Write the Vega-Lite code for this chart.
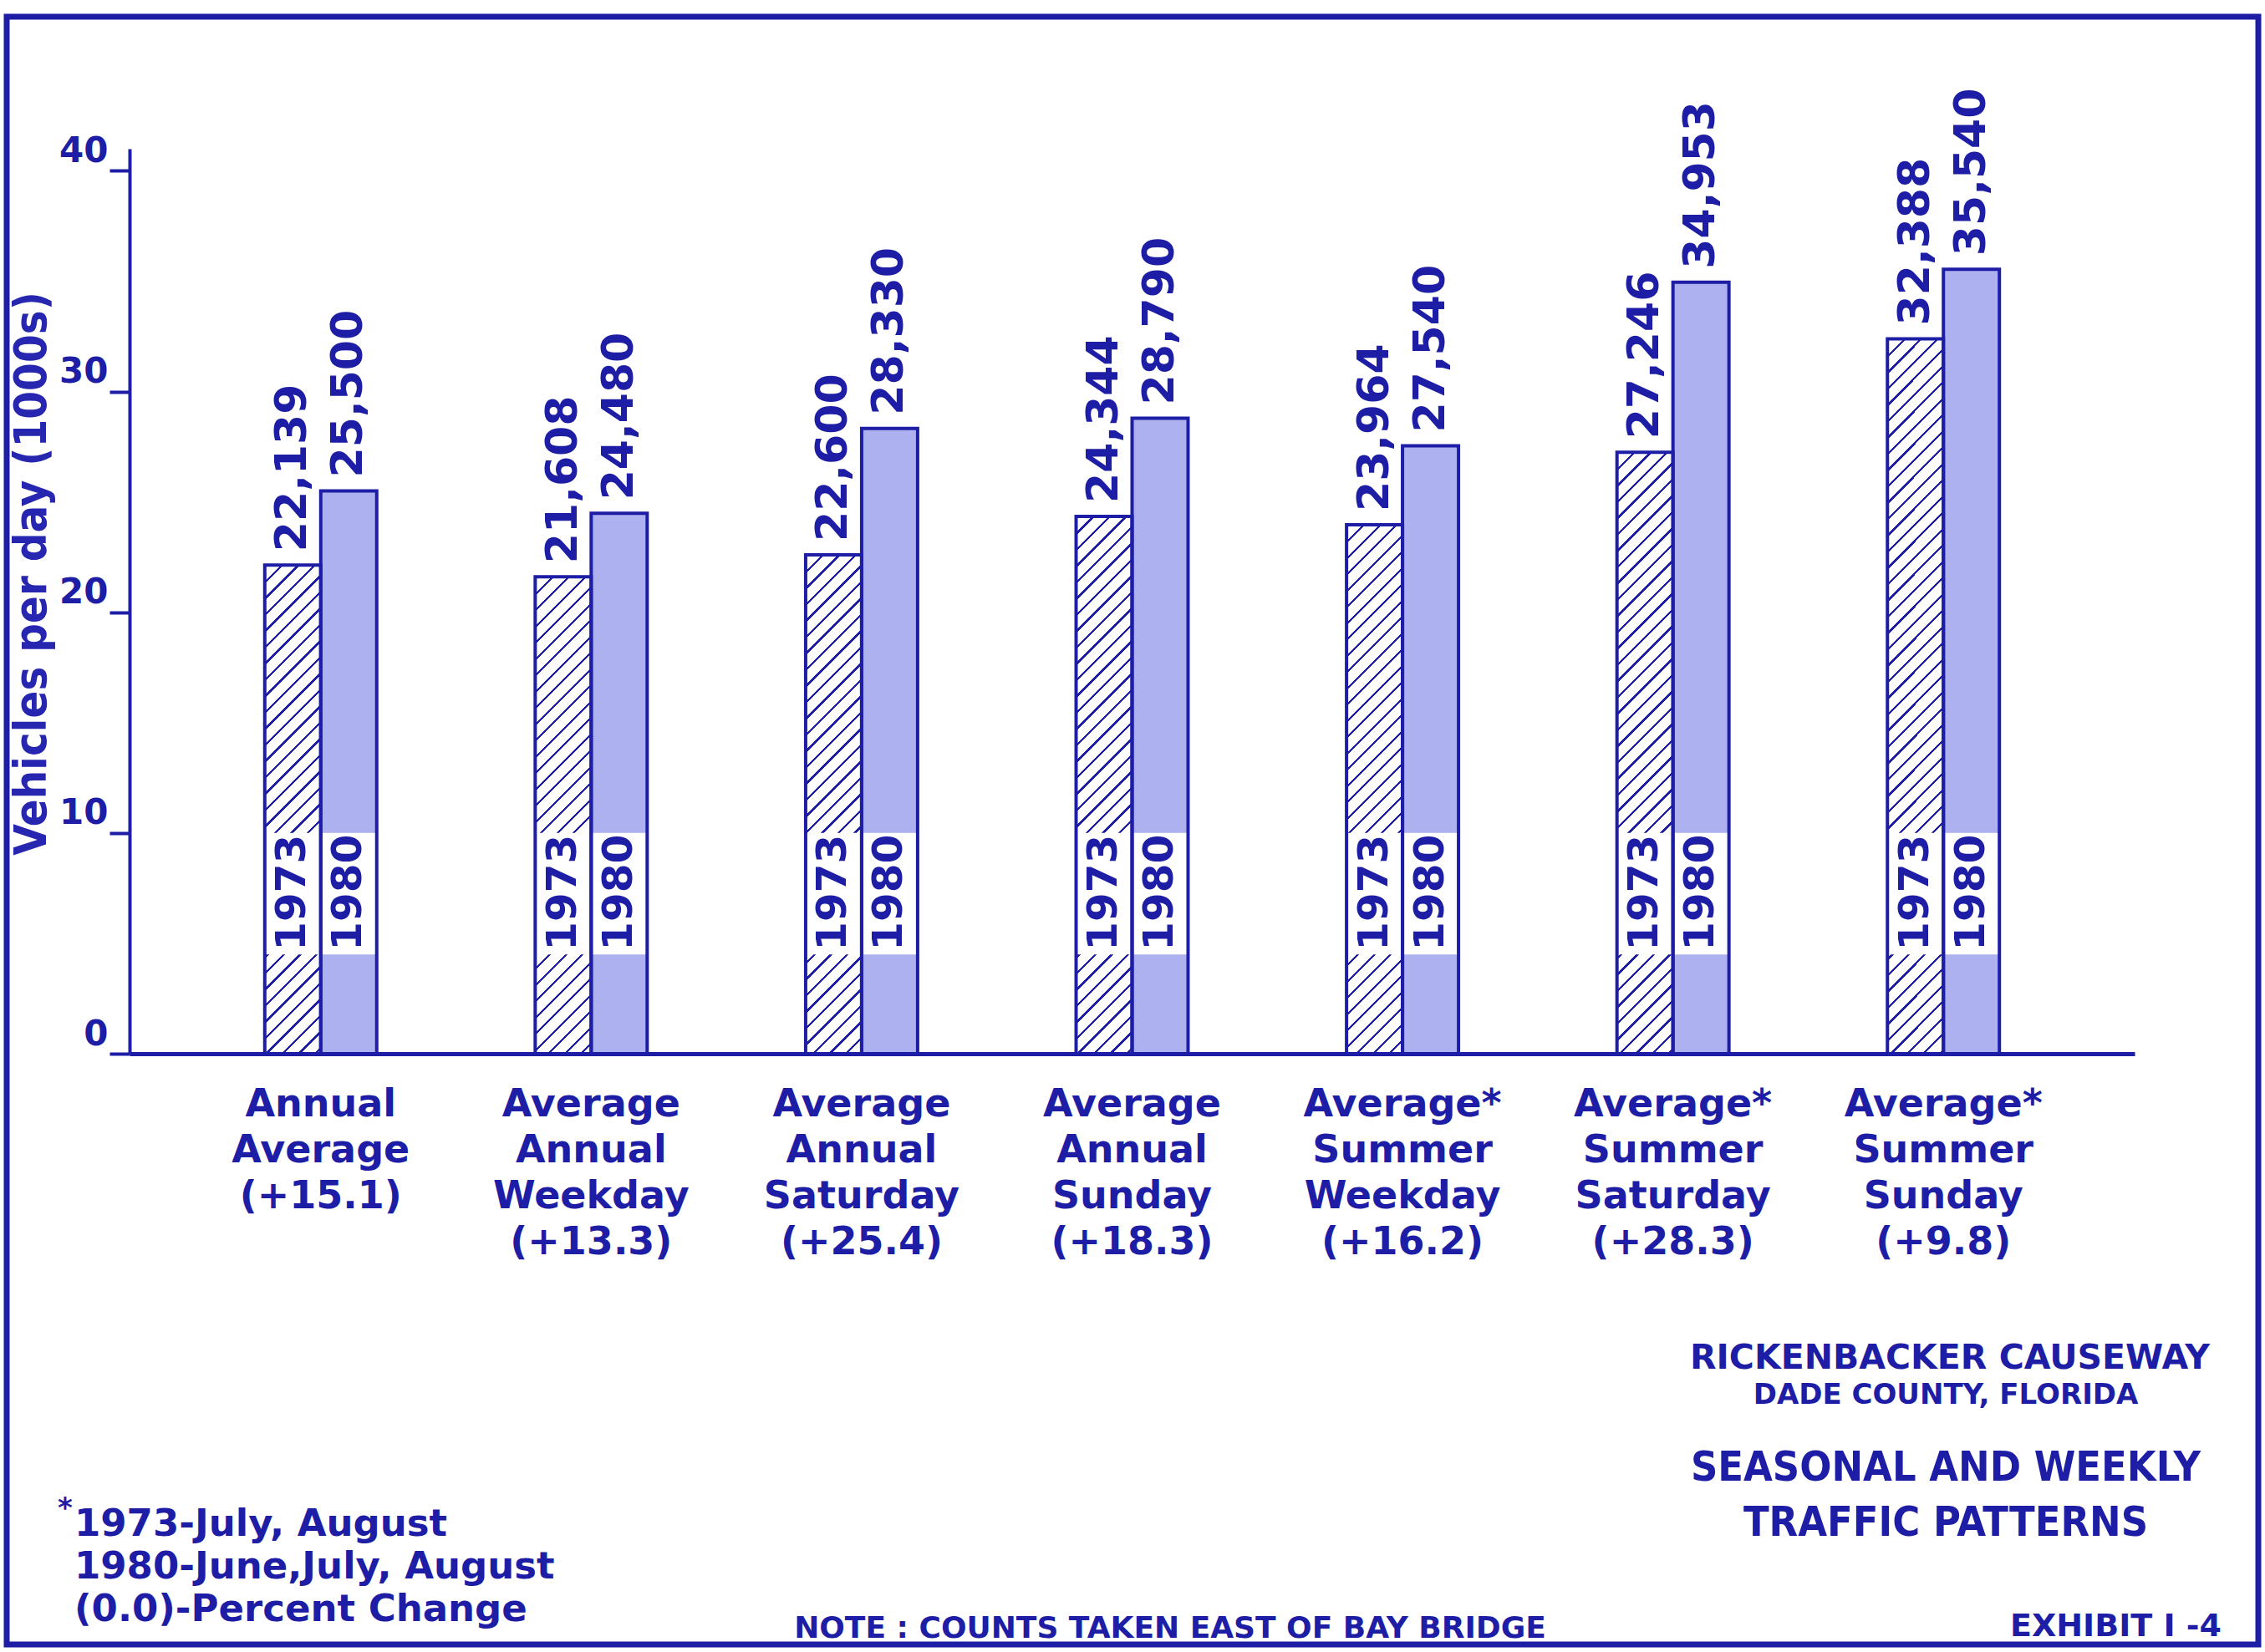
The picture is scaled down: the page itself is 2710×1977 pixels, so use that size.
{
  "$schema": "https://vega.github.io/schema/vega-lite/v6.json",
  "width": 2399,
  "height": 1083,
  "autosize": {"type": "none"},
  "padding": {"left": 155, "top": 178, "right": 156, "bottom": 716},
  "background": "white",
  "params": [
    {"name": "hs", "value": [
      {"offset":0,"color":"#1d1da5"},{"offset":0.0035,"color":"#1d1da5"},{"offset":0.0035,"color":"#fff"},{"offset":0.020833,"color":"#fff"},
      {"offset":0.020833,"color":"#1d1da5"},{"offset":0.024333,"color":"#1d1da5"},{"offset":0.024333,"color":"#fff"},{"offset":0.041667,"color":"#fff"},
      {"offset":0.041667,"color":"#1d1da5"},{"offset":0.045167,"color":"#1d1da5"},{"offset":0.045167,"color":"#fff"},{"offset":0.0625,"color":"#fff"},
      {"offset":0.0625,"color":"#1d1da5"},{"offset":0.066,"color":"#1d1da5"},{"offset":0.066,"color":"#fff"},{"offset":0.083333,"color":"#fff"},
      {"offset":0.083333,"color":"#1d1da5"},{"offset":0.086833,"color":"#1d1da5"},{"offset":0.086833,"color":"#fff"},{"offset":0.104167,"color":"#fff"},
      {"offset":0.104167,"color":"#1d1da5"},{"offset":0.107667,"color":"#1d1da5"},{"offset":0.107667,"color":"#fff"},{"offset":0.125,"color":"#fff"},
      {"offset":0.125,"color":"#1d1da5"},{"offset":0.1285,"color":"#1d1da5"},{"offset":0.1285,"color":"#fff"},{"offset":0.145833,"color":"#fff"},
      {"offset":0.145833,"color":"#1d1da5"},{"offset":0.149333,"color":"#1d1da5"},{"offset":0.149333,"color":"#fff"},{"offset":0.166667,"color":"#fff"},
      {"offset":0.166667,"color":"#1d1da5"},{"offset":0.170167,"color":"#1d1da5"},{"offset":0.170167,"color":"#fff"},{"offset":0.1875,"color":"#fff"},
      {"offset":0.1875,"color":"#1d1da5"},{"offset":0.191,"color":"#1d1da5"},{"offset":0.191,"color":"#fff"},{"offset":0.208333,"color":"#fff"},
      {"offset":0.208333,"color":"#1d1da5"},{"offset":0.211833,"color":"#1d1da5"},{"offset":0.211833,"color":"#fff"},{"offset":0.229167,"color":"#fff"},
      {"offset":0.229167,"color":"#1d1da5"},{"offset":0.232667,"color":"#1d1da5"},{"offset":0.232667,"color":"#fff"},{"offset":0.25,"color":"#fff"},
      {"offset":0.25,"color":"#1d1da5"},{"offset":0.2535,"color":"#1d1da5"},{"offset":0.2535,"color":"#fff"},{"offset":0.270833,"color":"#fff"},
      {"offset":0.270833,"color":"#1d1da5"},{"offset":0.274333,"color":"#1d1da5"},{"offset":0.274333,"color":"#fff"},{"offset":0.291667,"color":"#fff"},
      {"offset":0.291667,"color":"#1d1da5"},{"offset":0.295167,"color":"#1d1da5"},{"offset":0.295167,"color":"#fff"},{"offset":0.3125,"color":"#fff"},
      {"offset":0.3125,"color":"#1d1da5"},{"offset":0.316,"color":"#1d1da5"},{"offset":0.316,"color":"#fff"},{"offset":0.333333,"color":"#fff"},
      {"offset":0.333333,"color":"#1d1da5"},{"offset":0.336833,"color":"#1d1da5"},{"offset":0.336833,"color":"#fff"},{"offset":0.354167,"color":"#fff"},
      {"offset":0.354167,"color":"#1d1da5"},{"offset":0.357667,"color":"#1d1da5"},{"offset":0.357667,"color":"#fff"},{"offset":0.375,"color":"#fff"},
      {"offset":0.375,"color":"#1d1da5"},{"offset":0.3785,"color":"#1d1da5"},{"offset":0.3785,"color":"#fff"},{"offset":0.395833,"color":"#fff"},
      {"offset":0.395833,"color":"#1d1da5"},{"offset":0.399333,"color":"#1d1da5"},{"offset":0.399333,"color":"#fff"},{"offset":0.416667,"color":"#fff"},
      {"offset":0.416667,"color":"#1d1da5"},{"offset":0.420167,"color":"#1d1da5"},{"offset":0.420167,"color":"#fff"},{"offset":0.4375,"color":"#fff"},
      {"offset":0.4375,"color":"#1d1da5"},{"offset":0.441,"color":"#1d1da5"},{"offset":0.441,"color":"#fff"},{"offset":0.458333,"color":"#fff"},
      {"offset":0.458333,"color":"#1d1da5"},{"offset":0.461833,"color":"#1d1da5"},{"offset":0.461833,"color":"#fff"},{"offset":0.479167,"color":"#fff"},
      {"offset":0.479167,"color":"#1d1da5"},{"offset":0.482667,"color":"#1d1da5"},{"offset":0.482667,"color":"#fff"},{"offset":0.5,"color":"#fff"},
      {"offset":0.5,"color":"#1d1da5"},{"offset":0.5035,"color":"#1d1da5"},{"offset":0.5035,"color":"#fff"},{"offset":0.520833,"color":"#fff"},
      {"offset":0.520833,"color":"#1d1da5"},{"offset":0.524333,"color":"#1d1da5"},{"offset":0.524333,"color":"#fff"},{"offset":0.541667,"color":"#fff"},
      {"offset":0.541667,"color":"#1d1da5"},{"offset":0.545167,"color":"#1d1da5"},{"offset":0.545167,"color":"#fff"},{"offset":0.5625,"color":"#fff"},
      {"offset":0.5625,"color":"#1d1da5"},{"offset":0.566,"color":"#1d1da5"},{"offset":0.566,"color":"#fff"},{"offset":0.583333,"color":"#fff"},
      {"offset":0.583333,"color":"#1d1da5"},{"offset":0.586833,"color":"#1d1da5"},{"offset":0.586833,"color":"#fff"},{"offset":0.604167,"color":"#fff"},
      {"offset":0.604167,"color":"#1d1da5"},{"offset":0.607667,"color":"#1d1da5"},{"offset":0.607667,"color":"#fff"},{"offset":0.625,"color":"#fff"},
      {"offset":0.625,"color":"#1d1da5"},{"offset":0.6285,"color":"#1d1da5"},{"offset":0.6285,"color":"#fff"},{"offset":0.645833,"color":"#fff"},
      {"offset":0.645833,"color":"#1d1da5"},{"offset":0.649333,"color":"#1d1da5"},{"offset":0.649333,"color":"#fff"},{"offset":0.666667,"color":"#fff"},
      {"offset":0.666667,"color":"#1d1da5"},{"offset":0.670167,"color":"#1d1da5"},{"offset":0.670167,"color":"#fff"},{"offset":0.6875,"color":"#fff"},
      {"offset":0.6875,"color":"#1d1da5"},{"offset":0.691,"color":"#1d1da5"},{"offset":0.691,"color":"#fff"},{"offset":0.708333,"color":"#fff"},
      {"offset":0.708333,"color":"#1d1da5"},{"offset":0.711833,"color":"#1d1da5"},{"offset":0.711833,"color":"#fff"},{"offset":0.729167,"color":"#fff"},
      {"offset":0.729167,"color":"#1d1da5"},{"offset":0.732667,"color":"#1d1da5"},{"offset":0.732667,"color":"#fff"},{"offset":0.75,"color":"#fff"},
      {"offset":0.75,"color":"#1d1da5"},{"offset":0.7535,"color":"#1d1da5"},{"offset":0.7535,"color":"#fff"},{"offset":0.770833,"color":"#fff"},
      {"offset":0.770833,"color":"#1d1da5"},{"offset":0.774333,"color":"#1d1da5"},{"offset":0.774333,"color":"#fff"},{"offset":0.791667,"color":"#fff"},
      {"offset":0.791667,"color":"#1d1da5"},{"offset":0.795167,"color":"#1d1da5"},{"offset":0.795167,"color":"#fff"},{"offset":0.8125,"color":"#fff"},
      {"offset":0.8125,"color":"#1d1da5"},{"offset":0.816,"color":"#1d1da5"},{"offset":0.816,"color":"#fff"},{"offset":0.833333,"color":"#fff"},
      {"offset":0.833333,"color":"#1d1da5"},{"offset":0.836833,"color":"#1d1da5"},{"offset":0.836833,"color":"#fff"},{"offset":0.854167,"color":"#fff"},
      {"offset":0.854167,"color":"#1d1da5"},{"offset":0.857667,"color":"#1d1da5"},{"offset":0.857667,"color":"#fff"},{"offset":0.875,"color":"#fff"},
      {"offset":0.875,"color":"#1d1da5"},{"offset":0.8785,"color":"#1d1da5"},{"offset":0.8785,"color":"#fff"},{"offset":0.895833,"color":"#fff"},
      {"offset":0.895833,"color":"#1d1da5"},{"offset":0.899333,"color":"#1d1da5"},{"offset":0.899333,"color":"#fff"},{"offset":0.916667,"color":"#fff"},
      {"offset":0.916667,"color":"#1d1da5"},{"offset":0.920167,"color":"#1d1da5"},{"offset":0.920167,"color":"#fff"},{"offset":0.9375,"color":"#fff"},
      {"offset":0.9375,"color":"#1d1da5"},{"offset":0.941,"color":"#1d1da5"},{"offset":0.941,"color":"#fff"},{"offset":0.958333,"color":"#fff"},
      {"offset":0.958333,"color":"#1d1da5"},{"offset":0.961833,"color":"#1d1da5"},{"offset":0.961833,"color":"#fff"},{"offset":0.979167,"color":"#fff"},
      {"offset":0.979167,"color":"#1d1da5"},{"offset":0.982667,"color":"#1d1da5"},{"offset":0.982667,"color":"#fff"},{"offset":1,"color":"#fff"}
    ]}
  ],
  "config": {
    "view": {"stroke": null},
    "font": "DejaVu Sans",
    "text": {"font": "DejaVu Sans", "fontWeight": "bold", "fill": "#1d1da5"},
    "axis": {
      "labelFont": "DejaVu Sans", "labelFontWeight": "bold", "labelColor": "#1d1da5",
      "titleFont": "DejaVu Sans Condensed", "titleFontWeight": "bold", "titleColor": "#2626b0",
      "domainColor": "#1d1da5", "tickColor": "#1d1da5", "grid": false
    }
  },
  "layer": [
    {
      "data": {"values": [
        {"cat": "Annual|Average|(+15.1)", "year": "1973", "vehicles": 22139},
        {"cat": "Annual|Average|(+15.1)", "year": "1980", "vehicles": 25500},
        {"cat": "Average|Annual|Weekday|(+13.3)", "year": "1973", "vehicles": 21608},
        {"cat": "Average|Annual|Weekday|(+13.3)", "year": "1980", "vehicles": 24480},
        {"cat": "Average|Annual|Saturday|(+25.4)", "year": "1973", "vehicles": 22600},
        {"cat": "Average|Annual|Saturday|(+25.4)", "year": "1980", "vehicles": 28330},
        {"cat": "Average|Annual|Sunday|(+18.3)", "year": "1973", "vehicles": 24344},
        {"cat": "Average|Annual|Sunday|(+18.3)", "year": "1980", "vehicles": 28790},
        {"cat": "Average*|Summer|Weekday|(+16.2)", "year": "1973", "vehicles": 23964},
        {"cat": "Average*|Summer|Weekday|(+16.2)", "year": "1980", "vehicles": 27540},
        {"cat": "Average*|Summer|Saturday|(+28.3)", "year": "1973", "vehicles": 27246},
        {"cat": "Average*|Summer|Saturday|(+28.3)", "year": "1980", "vehicles": 34953},
        {"cat": "Average*|Summer|Sunday|(+9.8)", "year": "1973", "vehicles": 32388},
        {"cat": "Average*|Summer|Sunday|(+9.8)", "year": "1980", "vehicles": 35540}
      ]},
      "encoding": {
        "x": {
          "field": "cat", "type": "nominal", "sort": null,
          "scale": {"paddingInner": 0.586, "paddingOuter": 0.5},
          "axis": {
            "title": null, "labelExpr": "split(datum.label, '|')", "labelAngle": 0,
            "labelFontSize": 46, "labelLineHeight": 55, "labelPadding": 38,
            "labelLimit": 0, "labelOverlap": false, "ticks": false, "domainWidth": 5
          }
        },
        "xOffset": {"field": "year", "type": "nominal", "sort": ["1973", "1980"]}
      },
      "layer": [
        {
          "mark": {
            "type": "bar", "strokeWidth": 0,
            "fill": {"expr": "datum.year == '1973' ? {gradient: 'linear', x1: 0, y1: 0, x2: 62712/(4489 + pow(datum.vehicles*0.0264146, 2)), y2: datum.vehicles*0.0264146*936/(4489 + pow(datum.vehicles*0.0264146, 2)), stops: hs} : '#adb1ef'"}
          },
          "encoding": {
            "y": {
              "field": "vehicles", "type": "quantitative",
              "title": "Vehicles per day (1000s)",
              "scale": {"domain": [0, 41000], "nice": false},
              "axis": {
                "values": [0, 10000, 20000, 30000, 40000],
                "labelExpr": "datum.value/1000",
                "labelFontSize": 42, "labelAlign": "right", "labelBaseline": "alphabetic",
                "labelOffset": -11, "labelPadding": 2,
                "tickSize": 24, "tickWidth": 4, "domainWidth": 4,
                "titleFontSize": 54, "titleX": -117, "titleY": 508,
                "titleAngle": 270, "titleAlign": "center", "titleBaseline": "middle"
              }
            }
          }
        },
        {
          "mark": {"type": "bar", "fill": "white", "strokeWidth": 0},
          "encoding": {
            "y": {"datum": 4500, "type": "quantitative", "title": "Vehicles per day (1000s)"},
            "y2": {"datum": 10000}
          }
        },
        {
          "mark": {"type": "bar", "fill": "white", "fillOpacity": 0, "stroke": "#1d1da5", "strokeWidth": 4},
          "encoding": {
            "y": {"field": "vehicles", "type": "quantitative", "title": "Vehicles per day (1000s)"}
          }
        },
        {
          "mark": {"type": "text", "angle": 270, "align": "center", "baseline": "middle", "fontSize": 50},
          "encoding": {
            "y": {"datum": 7300, "type": "quantitative", "title": "Vehicles per day (1000s)"},
            "text": {"field": "year"}
          }
        },
        {
          "mark": {"type": "text", "angle": 270, "align": "left", "baseline": "middle", "dx": 16, "fontSize": 52},
          "encoding": {
            "y": {"field": "vehicles", "type": "quantitative", "title": "Vehicles per day (1000s)"},
            "text": {"field": "vehicles", "format": ","}
          }
        }
      ]
    },
    {
      "data": {"values": [{}]},
      "mark": {"type": "rect", "fill": "white", "fillOpacity": 0, "stroke": "#1d1da5", "strokeWidth": 7},
      "encoding": {
        "x": {"value": -147}, "x2": {"value": 2547},
        "y": {"value": -158}, "y2": {"value": 1790}
      }
    },
    {
      "data": {"values": [{}]},
      "mark": {"type": "text", "text": "RICKENBACKER CAUSEWAY", "x": 2178, "y": 1460, "align": "center", "baseline": "alphabetic", "fontSize": 41}
    },
    {
      "data": {"values": [{}]},
      "mark": {"type": "text", "text": "DADE COUNTY, FLORIDA", "x": 2173, "y": 1502, "align": "center", "baseline": "alphabetic", "fontSize": 34}
    },
    {
      "data": {"values": [{}]},
      "mark": {"type": "text", "text": ["SEASONAL AND WEEKLY", "TRAFFIC PATTERNS"], "x": 2173, "y": 1594, "align": "center", "baseline": "alphabetic", "fontSize": 50, "lineHeight": 66, "font": "DejaVu Sans Condensed"}
    },
    {
      "data": {"values": [{}]},
      "mark": {"type": "text", "text": "EXHIBIT I -4", "x": 2503, "y": 1780, "align": "right", "baseline": "alphabetic", "fontSize": 38}
    },
    {
      "data": {"values": [{}]},
      "mark": {"type": "text", "text": "NOTE : COUNTS TAKEN EAST OF BAY BRIDGE", "x": 1245, "y": 1782, "align": "center", "baseline": "alphabetic", "fontSize": 36}
    },
    {
      "data": {"values": [{}]},
      "mark": {"type": "text", "text": ["1973-July, August", "1980-June,July, August", "(0.0)-Percent Change"], "x": -66, "y": 1660, "align": "left", "baseline": "alphabetic", "fontSize": 45, "lineHeight": 51}
    },
    {
      "data": {"values": [{}]},
      "mark": {"type": "text", "text": "*", "x": -86, "y": 1638, "align": "left", "baseline": "alphabetic", "fontSize": 34}
    }
  ]
}
